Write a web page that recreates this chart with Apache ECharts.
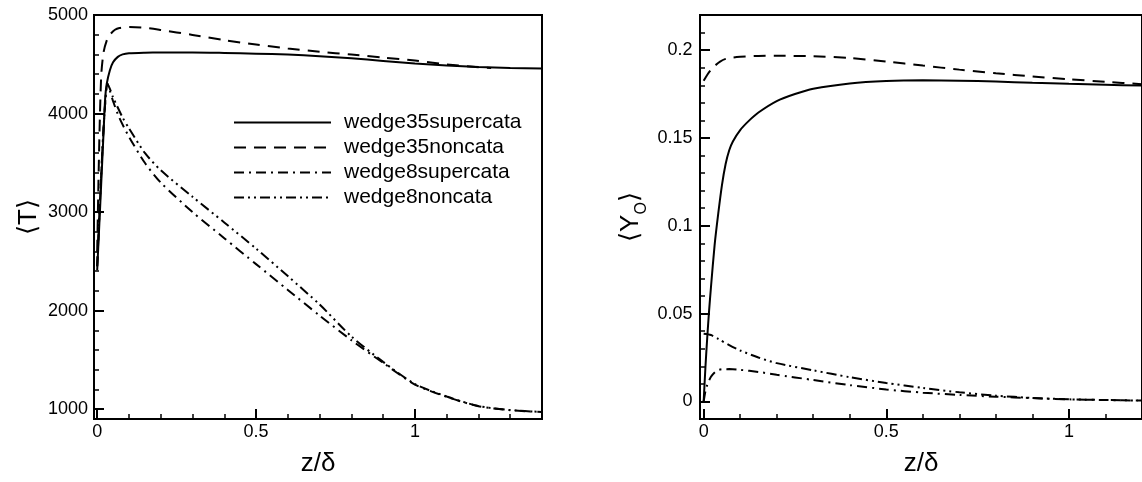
<!DOCTYPE html>
<html>
<head>
<meta charset="utf-8">
<script src="https://cdn.jsdelivr.net/npm/echarts@6/dist/echarts.min.js"></script>
<style>
  html, body { margin: 0; padding: 0; background: #fff; overflow: hidden; }
  #chart { width: 1142px; height: 482px; }
</style>
</head>
<body>
<div id="chart"></div>
<script>
// Mean temperature <T> versus z/delta, [z, T]
const T_wedge35supercata = [[0,2410],[0.01,3100],[0.02,3800],[0.025,4147],[0.03,4300],[0.04,4440],[0.05,4520],[0.065,4575],[0.08,4600],[0.1,4612],[0.15,4618],[0.2,4620],[0.3,4620],[0.4,4615],[0.5,4608],[0.6,4598],[0.7,4582],[0.8,4560],[0.9,4534],[1.0,4508],[1.1,4488],[1.2,4472],[1.3,4462],[1.4,4457]];
const T_wedge35noncata = [[0,2600],[0.004,3300],[0.008,3900],[0.013,4400],[0.02,4620],[0.03,4740],[0.04,4800],[0.056,4850],[0.07,4868],[0.1,4877],[0.15,4870],[0.2,4848],[0.3,4798],[0.4,4745],[0.5,4700],[0.6,4660],[0.7,4628],[0.8,4598],[0.9,4568],[1.0,4538],[1.1,4498],[1.2,4470],[1.24,4462]];
const T_wedge8supercata = [[0,2450],[0.01,3200],[0.02,3850],[0.027,4180],[0.032,4305],[0.04,4230],[0.05,4125],[0.07,3955],[0.1,3765],[0.15,3500],[0.2,3300],[0.3,3000],[0.4,2735],[0.5,2472],[0.6,2210],[0.7,1950],[0.8,1700],[0.9,1470],[1.0,1250],[1.1,1125],[1.2,1030],[1.3,990],[1.4,970]];
const T_wedge8noncata = [[0,2450],[0.01,3200],[0.02,3850],[0.027,4180],[0.032,4305],[0.04,4250],[0.05,4165],[0.08,3960],[0.1,3850],[0.15,3600],[0.2,3425],[0.3,3155],[0.4,2895],[0.5,2630],[0.6,2350],[0.7,2062],[0.8,1738],[0.9,1480],[1.0,1255],[1.1,1128],[1.2,1032],[1.3,991],[1.4,971]];

// Mean oxygen mass fraction <Y_O> versus z/delta, [z, Y]
const Y_wedge35supercata = [[0,0],[0.005,0.02],[0.01,0.037],[0.015,0.052],[0.02,0.065],[0.03,0.089],[0.04,0.107],[0.05,0.123],[0.06,0.135],[0.07,0.143],[0.08,0.148],[0.1,0.1545],[0.125,0.16],[0.15,0.1645],[0.2,0.171],[0.25,0.175],[0.3,0.178],[0.4,0.181],[0.5,0.1824],[0.6,0.1828],[0.7,0.1826],[0.8,0.1821],[0.9,0.1814],[1.0,0.1808],[1.1,0.1803],[1.2,0.1798]];
const Y_wedge35noncata = [[0,0.1825],[0.01,0.186],[0.02,0.1888],[0.03,0.191],[0.045,0.1935],[0.06,0.195],[0.08,0.1958],[0.1,0.1962],[0.15,0.1967],[0.2,0.1968],[0.3,0.1965],[0.4,0.1955],[0.5,0.1935],[0.6,0.1912],[0.7,0.1889],[0.8,0.1868],[0.9,0.185],[1.0,0.1834],[1.1,0.182],[1.2,0.1806]];
const Y_wedge8supercata = [[0,0],[0.005,0.006],[0.01,0.0095],[0.02,0.014],[0.03,0.0165],[0.04,0.0178],[0.05,0.0183],[0.07,0.0184],[0.1,0.018],[0.15,0.0168],[0.2,0.0152],[0.3,0.0122],[0.4,0.0093],[0.5,0.0068],[0.6,0.005],[0.7,0.0037],[0.8,0.0027],[0.9,0.0019],[1.0,0.0012],[1.1,0.0008],[1.2,0.0005]];
const Y_wedge8noncata = [[0,0.0385],[0.02,0.0378],[0.04,0.0356],[0.07,0.032],[0.1,0.029],[0.15,0.025],[0.2,0.0218],[0.3,0.0177],[0.4,0.0138],[0.5,0.0105],[0.6,0.0077],[0.7,0.0052],[0.8,0.0033],[0.9,0.002],[1.0,0.0012],[1.1,0.0008],[1.2,0.0005]];

// Series names (legend)
const SERIES_NAMES = ['wedge35supercata', 'wedge35noncata', 'wedge8supercata', 'wedge8noncata'];

// Tick positions and labels
const Z_MAJOR = [0, 0.5, 1];
const Z_MINOR = [0.1, 0.2, 0.3, 0.4, 0.6, 0.7, 0.8, 0.9, 1.1, 1.2, 1.3];
const T_MAJOR = [1000, 2000, 3000, 4000, 5000];
const T_MINOR = [1200, 1400, 1600, 1800, 2200, 2400, 2600, 2800, 3200, 3400, 3600, 3800, 4200, 4400, 4600, 4800];
const Y_MAJOR = [0, 0.05, 0.1, 0.15, 0.2];
const Y_MINOR = [0.01, 0.02, 0.03, 0.04, 0.06, 0.07, 0.08, 0.09, 0.11, 0.12, 0.13, 0.14, 0.16, 0.17, 0.18, 0.19, 0.21];

const FONT = "'Liberation Sans', Arial, Helvetica, sans-serif";
const NAME_FONT = "'Liberation Sans', 'DejaVu Sans', Arial, sans-serif";
const INK = '#000';

// Line dash patterns: solid, dashed, dash-dot, dash-dot-dot
const DASHES = ['solid', [12, 8], [10, 5, 2, 5], [10, 4, 2, 4, 2, 4]];

function majorAxis(gridIndex, position, min, max, ticks, margin, extra) {
  return Object.assign({
    gridIndex: gridIndex,
    type: 'value',
    position: position,
    min: min,
    max: max,
    axisLine: { show: true, onZero: false, lineStyle: { color: INK, width: 2 } },
    axisTick: { show: true, inside: true, length: 10, customValues: ticks, lineStyle: { color: INK, width: 2 } },
    axisLabel: {
      show: true, customValues: ticks, margin: margin, fontSize: 18, color: INK, fontFamily: FONT,
      formatter: function (v) { return String(v); }
    },
    splitLine: { show: false }
  }, extra || {});
}

function minorAxis(gridIndex, position, min, max, ticks) {
  return {
    gridIndex: gridIndex,
    type: 'value',
    position: position,
    min: min,
    max: max,
    axisLine: { show: false, onZero: false },
    axisTick: { show: true, inside: true, length: 5, customValues: ticks, lineStyle: { color: INK, width: 1.5 } },
    axisLabel: { show: false },
    splitLine: { show: false }
  };
}

const xName = {
  name: 'z/\u03b4',
  nameLocation: 'middle',
  nameGap: 32,
  nameTextStyle: { fontSize: 26, color: INK, fontFamily: NAME_FONT }
};

function makeSeries(datasets, xIdx, yIdx) {
  return datasets.map(function (d, i) {
    return {
      name: SERIES_NAMES[i],
      type: 'line',
      xAxisIndex: xIdx,
      yAxisIndex: yIdx,
      data: d,
      symbol: 'none',
      showSymbol: false,
      smooth: 0.25,
      lineStyle: { color: INK, width: 2, type: DASHES[i] },
      itemStyle: { color: INK },
      emphasis: { disabled: true },
      z: 4 - i
    };
  });
}

const chart = echarts.init(document.getElementById('chart'), null, { renderer: 'canvas' });

chart.setOption({
  animation: false,
  backgroundColor: '#fff',
  grid: [
    { left: 94, top: 15, width: 448, height: 409, show: true, borderColor: INK, borderWidth: 2, backgroundColor: 'transparent' },
    { left: 700, top: 15, width: 448, height: 410, show: true, borderColor: INK, borderWidth: 2, backgroundColor: 'transparent' }
  ],
  legend: {
    data: SERIES_NAMES,
    orient: 'vertical',
    left: 233,
    top: 112,
    padding: 0,
    itemWidth: 97,
    itemHeight: 14,
    itemGap: 4,
    selectedMode: false,
    itemStyle: { color: 'transparent', borderWidth: 0, opacity: 0 },
    textStyle: { fontSize: 21, color: INK, fontFamily: FONT, padding: [0, 0, 0, 8] }
  },
  xAxis: [
    majorAxis(0, 'bottom', -0.01, 1.4, Z_MAJOR, 4, xName),
    minorAxis(0, 'bottom', -0.01, 1.4, Z_MINOR),
    majorAxis(1, 'bottom', -0.01, 1.2, Z_MAJOR, 4, xName),
    minorAxis(1, 'bottom', -0.01, 1.2, Z_MINOR)
  ],
  yAxis: [
    majorAxis(0, 'left', 900, 5000, T_MAJOR, 6, {
      name: '\u27e8T\u27e9',
      nameLocation: 'middle',
      nameGap: 52,
      nameTextStyle: { fontSize: 26, color: INK, fontFamily: NAME_FONT }
    }),
    minorAxis(0, 'left', 900, 5000, T_MINOR),
    majorAxis(1, 'left', -0.01, 0.22, Y_MAJOR, 7.5, {
      name: '\u27e8Y{sub|O}\u27e9',
      nameLocation: 'middle',
      nameGap: 50,
      nameTextStyle: {
        fontSize: 26, color: INK, fontFamily: NAME_FONT,
        rich: { sub: { fontSize: 16, lineHeight: 38, verticalAlign: 'bottom', color: INK, fontFamily: NAME_FONT } }
      }
    }),
    minorAxis(1, 'left', -0.01, 0.22, Y_MINOR)
  ],
  series: [].concat(
    makeSeries([T_wedge35supercata, T_wedge35noncata, T_wedge8supercata, T_wedge8noncata], 0, 0),
    makeSeries([Y_wedge35supercata, Y_wedge35noncata, Y_wedge8supercata, Y_wedge8noncata], 2, 2)
  )
});
</script>
</body>
</html>
